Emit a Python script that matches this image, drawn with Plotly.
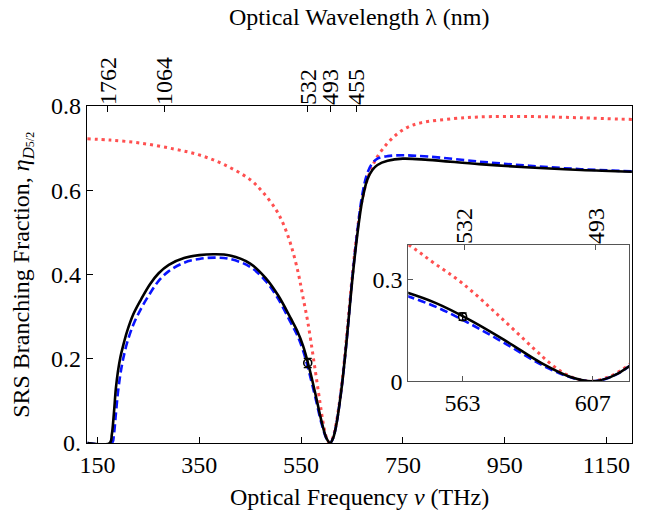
import plotly.graph_objects as go

# speed of light in nm*THz
C_NM_THZ = 299792.458

# ---- data ----
freq_black = [130, 174, 178, 182, 186, 190, 195, 200, 208, 220, 235, 253, 270, 290, 320, 350, 380,
              410, 450, 480, 505, 530, 542, 554, 566, 578, 590, 600, 607, 613, 619, 630,
              640, 650, 660, 670, 680, 690, 700, 720, 750, 800, 900, 1000, 1100, 1200]
eta_black = [0, 0, 0.02, 0.07, 0.13, 0.17, 0.205, 0.23, 0.265, 0.305, 0.34, 0.377, 0.403, 0.423,
             0.439, 0.446, 0.448, 0.445, 0.426, 0.392, 0.35, 0.295, 0.267, 0.23, 0.178, 0.117,
             0.052, 0.011, 0, 0.012, 0.042, 0.135, 0.25, 0.38, 0.49, 0.575, 0.625,
             0.648, 0.66, 0.67, 0.675, 0.672, 0.662, 0.654, 0.648, 0.644]

freq_blue = [130, 178, 182, 186, 190, 195, 200, 208, 220, 235, 253, 270, 290, 320, 350, 380, 410,
             450, 480, 505, 530, 542, 554, 566, 578, 590, 600, 607, 613, 619, 630, 640,
             650, 660, 670, 680, 690, 700, 720, 750, 800, 900, 1000, 1100, 1200]
eta_blue = [0, 0, 0.02, 0.07, 0.12, 0.165, 0.198, 0.238, 0.28, 0.318, 0.355, 0.385, 0.408, 0.428,
            0.437, 0.44, 0.437, 0.418, 0.385, 0.342, 0.285, 0.257, 0.219, 0.167, 0.108, 0.047,
            0.010, 0, 0.012, 0.042, 0.135, 0.25, 0.383, 0.497, 0.588, 0.64, 0.664, 0.675,
            0.681, 0.683, 0.68, 0.668, 0.658, 0.65, 0.645]

freq_red = [130, 175, 234, 300, 352, 400, 450, 475, 500, 515, 530, 545, 553, 563, 575, 587, 593,
            598, 603, 607, 613, 619, 630, 640, 650, 660, 670, 680, 690, 700, 720, 740, 760, 785,
            850, 900, 1000, 1100, 1200]
eta_red = [0.722, 0.719, 0.712, 0.698, 0.683, 0.66, 0.625, 0.595, 0.555, 0.52, 0.47, 0.40, 0.35,
           0.288, 0.195, 0.097, 0.05, 0.02, 0.004, 0, 0.015, 0.047, 0.14, 0.26, 0.39, 0.50, 0.578,
           0.625, 0.657, 0.68, 0.712, 0.735, 0.75, 0.76, 0.77, 0.774, 0.775, 0.772, 0.768]

meas_freq = [563]
meas_eta = [0.19]
meas_err = [0.011]

x_ticks = [150, 350, 550, 750, 950, 1150]
y_ticks = [0, 0.2, 0.4, 0.6, 0.8]
y_ticktext = ["0.", "0.2", "0.4", "0.6", "0.8"]
top_wavelengths = [1762, 1064, 532, 493, 455]

inset_x_ticks = [563, 607]
inset_y_ticks = [0, 0.3]
inset_y_ticktext = ["0", "0.3"]
inset_top_wavelengths = [532, 493]

FONT = "Liberation Serif"
FS = 24
RED = "#ff5050"
BLUE = "#0a14ff"

fig = go.Figure()


def add_curves(xa, ya):
    fig.add_trace(go.Scatter(x=freq_red, y=eta_red, mode="lines", xaxis=xa, yaxis=ya,
                             line=dict(color=RED, width=3, dash="3px,4px", shape="spline", smoothing=1),
                             showlegend=False))
    fig.add_trace(go.Scatter(x=freq_blue, y=eta_blue, mode="lines", xaxis=xa, yaxis=ya,
                             line=dict(color=BLUE, width=2.6, dash="8px,4px", shape="spline", smoothing=1),
                             showlegend=False))
    fig.add_trace(go.Scatter(x=freq_black, y=eta_black, mode="lines", xaxis=xa, yaxis=ya,
                             line=dict(color="black", width=2.6, shape="spline", smoothing=1),
                             showlegend=False))
    fig.add_trace(go.Scatter(x=meas_freq, y=meas_eta, mode="markers", xaxis=xa, yaxis=ya,
                             marker=dict(symbol="circle-open", size=8, color="black", line=dict(width=1.6)),
                             error_y=dict(type="data", array=meas_err, color="black", thickness=1.3, width=4),
                             showlegend=False))


add_curves("x", "y")
add_curves("x3", "y3")

# invisible traces to activate top axes
top_freqs = [C_NM_THZ / w for w in top_wavelengths]
inset_top_freqs = [C_NM_THZ / w for w in inset_top_wavelengths]
fig.add_trace(go.Scatter(x=top_freqs, y=[None] * len(top_freqs), xaxis="x2", yaxis="y",
                         mode="markers", showlegend=False, hoverinfo="skip"))
fig.add_trace(go.Scatter(x=inset_top_freqs, y=[None] * len(inset_top_freqs), xaxis="x4", yaxis="y3",
                         mode="markers", showlegend=False, hoverinfo="skip"))

XR = [129.2, 1200.3]
tickfont = dict(family=FONT, size=FS, color="black")

axis_common = dict(showgrid=False, zeroline=False, ticks="inside", ticklen=6, tickwidth=1,
                   tickcolor="black", showline=True, linecolor="black", linewidth=1.3,
                   tickfont=tickfont, automargin=False)

inset_dom_x = [0.5894, 0.9945]
inset_dom_y = [0.1833, 0.5872]
IC = "#555"

fig.update_layout(
    width=647, height=516,
    margin=dict(l=87, r=15, t=106, b=73, autoexpand=False),
    paper_bgcolor="white", plot_bgcolor="white",
    font=dict(family=FONT, size=FS, color="black"),
    xaxis=dict(range=XR, tickvals=x_ticks, mirror=True, **axis_common),
    yaxis=dict(range=[0, 0.8], tickvals=y_ticks, ticktext=y_ticktext, mirror=True, **axis_common),
    xaxis2=dict(range=XR, overlaying="x", side="top", anchor="y", tickvals=top_freqs,
                ticktext=[str(w) for w in top_wavelengths], tickangle=-90,
                showgrid=False, zeroline=False, ticks="inside", ticklen=6, tickcolor="black",
                showline=False, tickfont=tickfont, automargin=False),
    xaxis3=dict(domain=inset_dom_x, anchor="y3", range=[544.6, 619.3], tickvals=inset_x_ticks,
                showgrid=False, zeroline=False, ticks="inside", ticklen=5, tickcolor=IC,
                showline=True, linecolor=IC, linewidth=1, mirror=True, tickfont=tickfont,
                automargin=False),
    yaxis3=dict(domain=inset_dom_y, anchor="x3", range=[0, 0.401], tickvals=inset_y_ticks,
                ticktext=inset_y_ticktext,
                showgrid=False, zeroline=False, ticks="inside", ticklen=5, tickcolor=IC,
                showline=True, linecolor=IC, linewidth=1, mirror=True, tickfont=tickfont,
                automargin=False),
    xaxis4=dict(overlaying="x3", side="top", anchor="y3", range=[544.6, 619.3],
                tickvals=inset_top_freqs, ticktext=[str(w) for w in inset_top_wavelengths],
                tickangle=-90, showgrid=False, zeroline=False, ticks="inside", ticklen=5,
                tickcolor=IC, showline=False, tickfont=tickfont, automargin=False),
    annotations=[
        dict(text="Optical Frequency <i>ν</i> (THz)", xref="paper", yref="paper", x=0.5, y=-0.161,
             xanchor="center", yanchor="middle", showarrow=False, font=dict(family=FONT, size=FS)),
        dict(text="Optical Wavelength λ (nm)", xref="paper", yref="paper", x=0.5, y=1.264,
             xanchor="center", yanchor="middle", showarrow=False, font=dict(family=FONT, size=FS)),
        dict(text="SRS Branching Fraction, <i>η</i><sub><i>D</i><span style='font-size:12px'>5/2</span></sub>",
             xref="paper", yref="paper", x=-0.1186, y=0.5, textangle=-90,
             xanchor="center", yanchor="middle", showarrow=False, font=dict(family=FONT, size=FS)),
    ],
)

fig.write_html("out.html", config={"displayModeBar": False},
               post_script="document.body.style.margin='0px';")
